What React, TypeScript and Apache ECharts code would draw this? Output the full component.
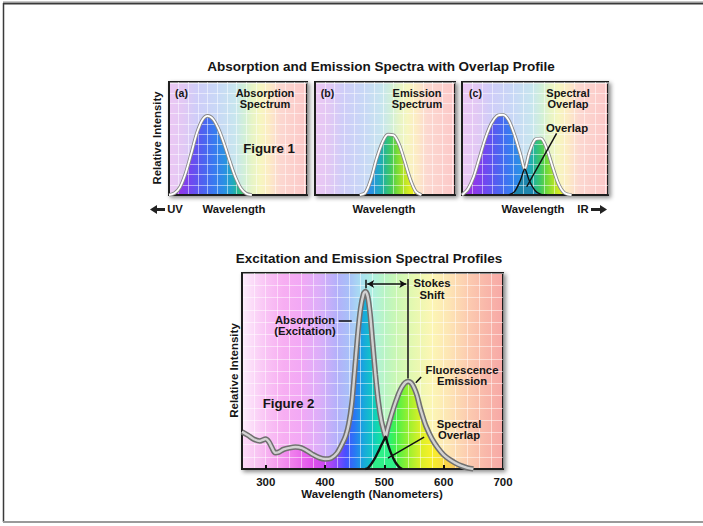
import React, { useEffect, useRef } from "react";
import * as echarts from "echarts";

const FONT = "'Liberation Sans', Arial, Helvetica, sans-serif";

// ---------- Figure 1 data (relative wavelength units within each panel) ----------
const fig1X = [0, 4, 8, 12, 16, 20, 24, 28, 32, 36, 40, 44, 48, 52, 56, 60, 64, 68, 72, 76, 80, 84, 88, 92, 96, 100];
const fig1Absorption = [0, 0.015, 0.07, 0.19, 0.36, 0.54, 0.66, 0.7, 0.67, 0.58, 0.45, 0.3, 0.16, 0.06, 0.012, 0, 0, 0, 0, 0, 0, 0, 0, 0, 0, 0];
const fig1Emission = [0, 0, 0, 0, 0, 0, 0, 0, 0, 0.02, 0.14, 0.32, 0.46, 0.535, 0.53, 0.45, 0.3, 0.14, 0.03, 0, 0, 0, 0, 0, 0, 0];

const fig1cX = [0, 4, 8, 12, 16, 20, 24, 28, 32, 36, 40, 43, 46, 50, 54, 58, 62, 66, 70, 75, 80, 90, 100];
const fig1cAbsorption = [0, 0.05, 0.16, 0.33, 0.5, 0.63, 0.7, 0.71, 0.66, 0.53, 0.36, 0.23, 0.13, 0.04, 0.005, 0, 0, 0, 0, 0, 0, 0, 0];
const fig1cEmission = [0, 0, 0, 0, 0, 0, 0, 0, 0, 0.03, 0.13, 0.23, 0.37, 0.49, 0.5, 0.41, 0.25, 0.1, 0.02, 0, 0, 0, 0];

// ---------- Figure 2 data (nm, relative intensity) ----------
const wavelengths = [260, 270, 280, 290, 300, 305, 310, 316, 322, 330, 340, 350, 360, 370, 380, 390, 400, 410, 420, 430, 435, 440, 445, 450, 455, 460, 465, 468, 472, 476, 480, 485, 490, 495, 500, 502, 505, 510, 515, 520, 525, 530, 535, 540, 545, 550, 555, 560, 565, 570, 580, 590, 600, 610, 620, 630, 640, 650, 660, 680, 700];
const absorption = [0.19, 0.172, 0.152, 0.143, 0.153, 0.14, 0.112, 0.083, 0.086, 0.1, 0.108, 0.112, 0.108, 0.092, 0.073, 0.058, 0.051, 0.055, 0.08, 0.135, 0.17, 0.23, 0.33, 0.5, 0.68, 0.82, 0.895, 0.905, 0.88, 0.79, 0.65, 0.48, 0.34, 0.245, 0.185, 0.165, 0.135, 0.09, 0.055, 0.028, 0.01, 0, 0, 0, 0, 0, 0, 0, 0, 0, 0, 0, 0, 0, 0, 0, 0, 0, 0, 0, 0];
const emission = [0, 0, 0, 0, 0, 0, 0, 0, 0, 0, 0, 0, 0, 0, 0, 0, 0, 0, 0, 0, 0, 0, 0, 0, 0, 0, 0, 0, 0.004, 0.018, 0.035, 0.06, 0.09, 0.122, 0.152, 0.165, 0.2, 0.255, 0.305, 0.35, 0.39, 0.42, 0.44, 0.447, 0.44, 0.415, 0.375, 0.315, 0.265, 0.22, 0.155, 0.108, 0.072, 0.048, 0.03, 0.016, 0.006, 0, 0, 0, 0];
const tickValues = [300, 400, 500, 600];
const labelValues = [300, 400, 500, 600, 700];

// ---------- helpers ----------
const maxOf = (a: number[], b: number[]) => a.map((v, i) => Math.max(v, b[i]));
const minOf = (a: number[], b: number[]) => a.map((v, i) => Math.min(v, b[i]));
const trim = (v: number[]) =>
  v.map((y, i) => (y > 0 || (v[i - 1] ?? 0) > 0 || (v[i + 1] ?? 0) > 0 ? y : null));
const pairs = (xs: number[], ys: (number | null)[]) => xs.map((x, i) => [x, ys[i] === null ? "-" : ys[i]]);

const grad = (stops: [number, string][]) =>
  new echarts.graphic.LinearGradient(0, 0, 1, 0, stops.map(([offset, color]) => ({ offset, color })));
const nmGrad = (stops: [number, string][]) => grad(stops.map(([w, c]) => [(w - 260) / 440, c]));

const fig1Pale = () =>
  grad([
    [0, "#ecc8f4"], [0.1, "#e2c8f4"], [0.2, "#cfcdf8"], [0.35, "#c8d8f6"], [0.48, "#c8e6ee"],
    [0.55, "#d2f0d6"], [0.6, "#e6f4c6"], [0.66, "#f6f6c0"], [0.72, "#fcecc4"], [0.8, "#fcd8d0"], [1, "#fcc8c8"],
  ]);
const fig1Sat = () =>
  grad([
    [0, "#a030e0"], [0.08, "#9038e8"], [0.16, "#7048f0"], [0.24, "#5060f0"], [0.32, "#3a78f0"],
    [0.4, "#2a90e4"], [0.46, "#20a8c0"], [0.5, "#28b890"], [0.54, "#40c860"], [0.58, "#70d838"],
    [0.63, "#b0e428"], [0.68, "#e0ec20"], [0.74, "#f4ec20"], [1, "#f8e040"],
  ]);
const fig2Pale = () =>
  nmGrad([
    [260, "#fdf0fc"], [280, "#fbd8f8"], [300, "#f9c4f5"], [330, "#f7aef2"], [360, "#f2a8f5"],
    [390, "#dcaef9"], [420, "#b4b0fa"], [440, "#a8c0f8"], [460, "#a8def2"], [480, "#b0f0e2"],
    [500, "#b8f4c4"], [520, "#caf7b4"], [550, "#e6f8b0"], [580, "#fcf6b4"], [610, "#fde4b4"],
    [640, "#fcccb0"], [670, "#f9b8aa"], [700, "#f7a8a6"],
  ]);
const fig2Sat = () =>
  nmGrad([
    [260, "#fcdcf8"], [290, "#f8c0f2"], [320, "#f49cee"], [350, "#ee78ec"], [380, "#e050ec"],
    [400, "#c848f0"], [420, "#8848fc"], [435, "#4850ff"], [450, "#2878f4"], [465, "#18a8dc"],
    [480, "#10c8c4"], [495, "#14e49c"], [505, "#20f080"], [520, "#48f048"], [540, "#98f030"],
    [560, "#d8f028"], [580, "#f8f028"], [600, "#f8dc40"], [620, "#f8c460"], [650, "#f8b080"], [700, "#f8a0a0"],
  ]);

const fill = (gi: number, xs: number[], ys: (number | null)[], color: any, z = 1) => ({
  type: "line", xAxisIndex: gi, yAxisIndex: gi, data: pairs(xs, ys), smooth: 0.3,
  symbol: "none", showSymbol: false, silent: true, z,
  lineStyle: { width: 0 }, areaStyle: { color, opacity: 1 }, emphasis: { disabled: true },
});
const stroke = (gi: number, xs: number[], ys: (number | null)[], color: string, width: number, z: number, extra: any = {}) => ({
  type: "line", xAxisIndex: gi, yAxisIndex: gi, data: pairs(xs, ys), smooth: 0.3,
  symbol: "none", showSymbol: false, silent: true, z,
  lineStyle: { color, width }, emphasis: { disabled: true }, ...extra,
});
const mark = (data: any[]) => ({
  markLine: {
    silent: true, animation: false, symbol: "none", label: { show: false },
    lineStyle: { color: "#111", width: 1.5, type: "solid" }, emphasis: { disabled: true }, data,
  },
});
const seg = (a: number[], b: number[], symA = "none", symB = "none") => [
  { coord: a, symbol: symA, symbolSize: [6, 7] },
  { coord: b, symbol: symB, symbolSize: [6, 7] },
];

const T = (text: string, x: number, y: number, size = 11.5, extra: any = {}, rotation = 0) => ({
  type: "text", x, y, rotation, z: 100, silent: true,
  style: {
    text, fill: "#161616", fontSize: size, fontWeight: "bold", fontFamily: FONT,
    align: "center", verticalAlign: "middle", lineHeight: size, ...extra,
  },
});

function buildOption() {
  const grids = [
    { left: 169, top: 82, width: 138, height: 113 },
    { left: 315, top: 82, width: 140, height: 113 },
    { left: 462, top: 82, width: 146, height: 113 },
    { left: 242, top: 273, width: 261, height: 196 },
  ].map((g, i) => ({
    ...g, show: true, backgroundColor: i === 3 ? fig2Pale() : fig1Pale(),
    borderColor: "#1e1e1e", borderWidth: 2,
    shadowBlur: 4, shadowColor: "rgba(0,0,0,0.45)", shadowOffsetX: 2, shadowOffsetY: 2,
  }));

  const gridLine = { show: true, lineStyle: { color: "rgba(255,255,255,0.5)", width: 1 } };
  const axisLine = { show: true, onZero: false, lineStyle: { color: "#1e1e1e", width: 2 } };

  const xAxis: any[] = [0, 1, 2].map((i) => ({
    type: "value", gridIndex: i, min: 0, max: 100, interval: 7, z: 2,
    axisLabel: { show: false }, axisTick: { show: false }, axisLine, splitLine: gridLine,
  }));
  xAxis.push({
    type: "value", gridIndex: 3, min: 260, max: 700, interval: 20, z: 2,
    axisLabel: { show: false }, axisTick: { show: false }, axisLine, splitLine: gridLine,
  });
  xAxis.push({
    type: "value", gridIndex: 3, min: 260, max: 700, position: "bottom", z: 3,
    axisLine: { show: false }, splitLine: { show: false },
    axisTick: { show: true, inside: true, length: 4, customValues: tickValues, lineStyle: { color: "#111", width: 2 } },
    axisLabel: {
      show: true, customValues: labelValues, margin: 7, fontSize: 11.5, fontWeight: "bold",
      color: "#161616", fontFamily: FONT,
    },
  });

  const yAxis: any[] = [0, 1, 2].map((i) => ({
    type: "value", gridIndex: i, min: 0, max: 1, interval: 0.09, z: 2,
    axisLabel: { show: false }, axisTick: { show: false }, axisLine, splitLine: gridLine,
  }));
  yAxis.push({
    type: "value", gridIndex: 3, min: 0, max: 1, interval: 0.0625, z: 2,
    axisLabel: { show: false }, axisTick: { show: false }, axisLine, splitLine: gridLine,
  });

  const envC = maxOf(fig1cAbsorption, fig1cEmission);
  const minC = minOf(fig1cAbsorption, fig1cEmission);
  const env2 = maxOf(absorption, emission);
  const min2 = minOf(absorption, emission);

  const series: any[] = [
    // panel (a)
    fill(0, fig1X, fig1Absorption, fig1Sat()),
    stroke(0, fig1X, trim(fig1Absorption), "#8a8a8a", 3.6, 3),
    stroke(0, fig1X, trim(fig1Absorption), "#ffffff", 1.8, 4),
    // panel (b)
    fill(1, fig1X, fig1Emission, fig1Sat()),
    stroke(1, fig1X, trim(fig1Emission), "#8a8a8a", 3.6, 3),
    stroke(1, fig1X, trim(fig1Emission), "#ffffff", 1.8, 4),
    // panel (c)
    fill(2, fig1cX, envC, fig1Sat()),
    fill(2, fig1cX, trim(minC), "#1f86ad"),
    stroke(2, fig1cX, trim(envC), "#8a8a8a", 3.6, 3),
    stroke(2, fig1cX, trim(envC), "#ffffff", 1.8, 4),
    stroke(2, fig1cX, trim(minC), "#111111", 1.4, 5, mark([seg([44.3, 0.073], [64.8, 0.546])])),
    // figure 2
    fill(3, wavelengths, env2, fig2Sat()),
    fill(3, wavelengths, trim(min2), "#2ef088"),
    stroke(3, wavelengths, trim(env2), "#707070", 5.5, 3),
    stroke(3, wavelengths, trim(env2), "#d2d2d2", 2.4, 4),
    stroke(
      3, wavelengths, trim(min2), "#111111", 2.4, 5,
      mark([
        seg([468, 0.966], [468, 0.922]),
        seg([471, 0.944], [537, 0.944], "arrow", "arrow"),
        seg([540, 0.97], [540, 0.462]),
        seg([423, 0.757], [445, 0.757]),
        seg([553, 0.44], [562, 0.47]),
        seg([506, 0.056], [567, 0.163]),
      ])
    ),
  ];

  const graphic: any[] = [
    // page frame
    { type: "line", silent: true, shape: { x1: 3, y1: 1.5, x2: 703, y2: 1.5 }, style: { stroke: "#c8c8c8", lineWidth: 1 } },
    { type: "line", silent: true, shape: { x1: 3, y1: 3.5, x2: 703, y2: 3.5 }, style: { stroke: "#3a3a3a", lineWidth: 2 } },
    { type: "line", silent: true, shape: { x1: 3.5, y1: 3, x2: 3.5, y2: 522 }, style: { stroke: "#3a3a3a", lineWidth: 1.5 } },
    { type: "line", silent: true, shape: { x1: 3, y1: 522, x2: 703, y2: 522 }, style: { stroke: "#9a9a9a", lineWidth: 2 } },
    // figure 1 texts
    T("Absorption and Emission Spectra with Overlap Profile", 381, 66, 13.5),
    T("Relative Intensity", 157, 138, 11.3, {}, Math.PI / 2),
    T("(a)", 181.5, 93, 10.5),
    T("Absorption\nSpectrum", 265, 98, 11),
    T("Figure 1", 269, 148, 13.3),
    T("(b)", 327.5, 93, 10.5),
    T("Emission\nSpectrum", 417, 98, 11),
    T("(c)", 475.5, 93, 10.5),
    T("Spectral\nOverlap", 568, 98, 11),
    T("Overlap", 567, 127.5, 11.3),
    T("UV", 175, 208.5, 11.3),
    T("Wavelength", 234, 208.5, 11.3),
    T("Wavelength", 384, 208.5, 11.3),
    T("Wavelength", 533, 208.5, 11.3),
    T("IR", 583, 208.5, 11.3),
    { type: "polygon", silent: true, shape: { points: [[150, 209.5], [157, 205], [157, 214]] }, style: { fill: "#222" } },
    { type: "rect", silent: true, shape: { x: 156, y: 208, width: 9, height: 3 }, style: { fill: "#222" } },
    { type: "polygon", silent: true, shape: { points: [[607, 209.5], [600, 205], [600, 214]] }, style: { fill: "#222" } },
    { type: "rect", silent: true, shape: { x: 591, y: 208, width: 10, height: 3 }, style: { fill: "#222" } },
    // figure 2 texts
    T("Excitation and Emission Spectral Profiles", 369, 258.5, 13.5),
    T("Absorption\n(Excitation)", 305, 325.5, 11.3),
    T("Stokes\nShift", 432, 289, 11.3),
    T("Fluorescence\nEmission", 462, 375.5, 11.3),
    T("Figure 2", 288.5, 403.5, 13.3),
    T("Spectral\nOverlap", 459, 429.5, 11.3),
    T("Relative Intensity", 233.5, 370.5, 11.5, {}, Math.PI / 2),
    T("Wavelength (Nanometers)", 372, 493.5, 11.5),
  ];

  return {
    animation: false,
    backgroundColor: "#ffffff",
    textStyle: { fontFamily: FONT },
    grid: grids,
    xAxis,
    yAxis,
    series,
    graphic,
  };
}

export default function App() {
  const ref = useRef<HTMLDivElement>(null);
  useEffect(() => {
    if (!ref.current) return;
    const chart = echarts.init(ref.current, undefined, { renderer: "svg" });
    chart.setOption(buildOption() as any);
    return () => chart.dispose();
  }, []);
  return (
    <div
      ref={ref}
      style={{ position: "fixed", left: 0, top: 0, width: 703, height: 526, background: "#fff" }}
    />
  );
}
